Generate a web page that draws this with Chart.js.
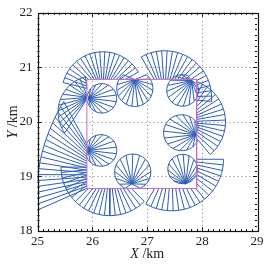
<!DOCTYPE html>
<html>
<head>
<meta charset="utf-8">
<script src="https://cdn.jsdelivr.net/npm/chart.js@4.4.1/dist/chart.umd.min.js"></script>
<style>
  html, body { margin: 0; padding: 0; background: #fff; }
</style>
</head>
<body>
<canvas id="sonarChart" width="276" height="265"></canvas>
<script>
// Axis ticks (km)
const xTicks = [25, 26, 27, 28, 29];
const yTicks = [18, 19, 20, 21, 22];

// Planned route (km)
const routeX = [25.9, 27.9, 27.9, 25.9, 25.9];
const routeY = [20.78, 20.78, 18.78, 18.78, 20.78];

// Sonar fans: apex at first and last ray (a moving apex gives a swath),
// arc centre, arc radius (km), arc span (deg), number of rays,
// and whether the fan is only drawn outside the route
const fanApexX    = [25.936, 26.773, 27.809, 27.882, 27.700, 26.718, 25.918, 26.191, 25.918, 25.918, 27.318, 27.645, 27.445, 26.318];
const fanApexY    = [20.432, 20.775, 20.757, 19.766, 18.865, 18.865, 19.477, 20.541, 20.450, 19.550, 20.450, 20.000, 19.315, 19.171];
const fanApexEndX = [25.936, 26.773, 27.809, 27.882, 27.700, 26.718, 25.918, 26.191, 25.918, 25.918, 27.318, 27.645, 27.445, 26.318];
const fanApexEndY = [20.432, 20.775, 20.757, 19.766, 18.865, 18.865, 19.477, 20.541, 20.450, 18.790, 20.450, 20.000, 19.315, 19.171];
const fanCenterX  = [26.173, 26.773, 27.645, 27.627, 27.645, 26.736, 26.155, 26.191, 26.045, 28.500, 27.318, 27.645, 27.445, 26.318];
const fanCenterY  = [20.432, 20.613, 20.577, 19.802, 19.135, 19.081, 19.477, 20.541, 20.180, 18.559, 20.450, 20.000, 19.315, 19.171];
const fanRadius   = [0.27, 0.33, 0.29, 0.33, 0.27, 0.33, 0.29, 0.745, 0.67, 3.527, 0.855, 0.78, 0.945, 0.89];
const fanFromDeg  = [-165, 130, 73, 20, -55, -65, -155, 30, 105, 149, -5, -50, -120, 180];
const fanToDeg    = [165, 410, 383, 330, 255, 245, 155, 166, 215, 183, 120, 70, 0, 315];
const fanRays     = [14, 16, 15, 15, 14, 15, 14, 20, 13, 20, 20, 17, 20, 22];
const fanOuter    = [false, false, false, false, false, false, false, true, true, true, true, true, true, true];

const BLUE = '#2d5db4';
const ROUTE = '#cc66cc';
const SERIF = '"Liberation Serif", "DejaVu Serif", serif';

const xMin = Math.min(...routeX), xMax = Math.max(...routeX);
const yMin = Math.min(...routeY), yMax = Math.max(...routeY);

function rayAt(i, k) {
    const f = k / (fanRays[i] - 1);
    const a = (fanFromDeg[i] + (fanToDeg[i] - fanFromDeg[i]) * f) * Math.PI / 180;
    return {
        start: {
            x: fanApexX[i] + (fanApexEndX[i] - fanApexX[i]) * f,
            y: fanApexY[i] + (fanApexEndY[i] - fanApexY[i]) * f
        },
        end: {
            x: fanCenterX[i] + fanRadius[i] * Math.cos(a),
            y: fanCenterY[i] + fanRadius[i] * Math.sin(a)
        }
    };
}

// move a ray start to where it leaves the route box
function clipOutside(a, b) {
    const inside = a.x > xMin && a.x < xMax && a.y > yMin && a.y < yMax;
    if (!inside) return a;
    const dx = b.x - a.x, dy = b.y - a.y;
    const tx = dx > 0 ? (xMax - a.x) / dx : dx < 0 ? (xMin - a.x) / dx : Infinity;
    const ty = dy > 0 ? (yMax - a.y) / dy : dy < 0 ? (yMin - a.y) / dy : Infinity;
    const t = Math.min(tx, ty);
    if (t >= 1) return null;
    return { x: a.x + t * dx, y: a.y + t * dy };
}

function buildFanDatasets() {
    const sets = [];
    for (let i = 0; i < fanRays.length; i++) {
        const rays = [];
        const arc = [];
        for (let k = 0; k < fanRays[i]; k++) {
            const r = rayAt(i, k);
            const start = fanOuter[i] ? clipOutside(r.start, r.end) : r.start;
            arc.push(r.end);
            if (!start) continue;
            rays.push(start, r.end, { x: NaN, y: NaN });
        }
        sets.push({ data: rays, borderColor: BLUE, borderWidth: 1, showLine: true, pointRadius: 0, spanGaps: false, tension: 0, order: 1 });
        sets.push({ data: arc, borderColor: BLUE, borderWidth: 1, showLine: true, pointRadius: 0, tension: 0.35, order: 1 });
    }
    return sets;
}

const routeData = routeX.map((x, i) => ({ x: x, y: routeY[i] }));

// dotted grid, box and small ticks, axis titles
const framePlugin = {
    id: 'frame',
    beforeDatasetsDraw(chart) {
        const { ctx, chartArea: a, scales: { x, y } } = chart;
        ctx.save();
        ctx.strokeStyle = '#777';
        ctx.lineWidth = 1;
        ctx.setLineDash([1, 3]);
        xTicks.slice(1, -1).forEach(v => {
            const px = Math.round(x.getPixelForValue(v)) + 0.5;
            ctx.beginPath(); ctx.moveTo(px, a.top); ctx.lineTo(px, a.bottom); ctx.stroke();
        });
        yTicks.slice(1, -1).forEach(v => {
            const py = Math.round(y.getPixelForValue(v)) + 0.5;
            ctx.beginPath(); ctx.moveTo(a.left, py); ctx.lineTo(a.right, py); ctx.stroke();
        });
        ctx.restore();
    },
    afterDatasetsDraw(chart) {
        const { ctx, chartArea: a, scales: { x, y } } = chart;
        ctx.save();
        ctx.strokeStyle = '#111';
        ctx.lineWidth = 1;
        // minor ticks every 0.1 km
        ctx.beginPath();
        for (let k = 1; k < 40; k++) {
            const px = Math.round(x.getPixelForValue(xTicks[0] + k / 10)) + 0.5;
            const py = Math.round(y.getPixelForValue(yTicks[0] + k / 10)) + 0.5;
            const len = k % 10 === 0 ? 4 : 2;
            ctx.moveTo(px, a.bottom); ctx.lineTo(px, a.bottom - len);
            ctx.moveTo(px, a.top); ctx.lineTo(px, a.top + len);
            ctx.moveTo(a.left, py); ctx.lineTo(a.left + len, py);
            ctx.moveTo(a.right, py); ctx.lineTo(a.right - len, py);
        }
        ctx.stroke();
        ctx.lineWidth = 1.2;
        ctx.strokeRect(Math.round(a.left) + 0.5, Math.round(a.top) + 0.5, Math.round(a.right - a.left), Math.round(a.bottom - a.top));
        ctx.restore();
    },
    afterDraw(chart) {
        const { ctx, chartArea: a } = chart;
        ctx.save();
        ctx.fillStyle = '#222';
        ctx.textBaseline = 'middle';
        ctx.textAlign = 'left';
        const title = (letter, cx, cy) => {
            ctx.font = 'italic 14px ' + SERIF;
            const w1 = ctx.measureText(letter).width;
            ctx.font = '14px ' + SERIF;
            const w2 = ctx.measureText(' /km').width;
            const x0 = cx - (w1 + w2) / 2;
            ctx.font = 'italic 14px ' + SERIF;
            ctx.fillText(letter, x0, cy);
            ctx.font = '14px ' + SERIF;
            ctx.fillText(' /km', x0 + w1, cy);
        };
        title('X', (a.left + a.right) / 2, 254);
        ctx.translate(13, (a.top + a.bottom) / 2);
        ctx.rotate(-Math.PI / 2);
        title('Y', 0, 0);
        ctx.restore();
    }
};

new Chart(document.getElementById('sonarChart'), {
    type: 'scatter',
    data: {
        datasets: [
            { data: routeData, borderColor: ROUTE, borderWidth: 1, showLine: true, pointRadius: 0, tension: 0, order: 0 },
            ...buildFanDatasets()
        ]
    },
    options: {
        responsive: false,
        animation: false,
        layout: { padding: { top: 9, right: 19, left: 0, bottom: 0 } },
        plugins: { legend: { display: false }, tooltip: { enabled: false } },
        scales: {
            x: {
                type: 'linear', min: 25, max: 29,
                grid: { display: false, drawTicks: false },
                border: { display: false },
                afterBuildTicks: s => { s.ticks = xTicks.map(v => ({ value: v })); },
                afterFit: s => { s.height = 34; },
                ticks: { padding: 3, color: '#222', font: { family: SERIF, size: 13 } }
            },
            y: {
                type: 'linear', min: 18, max: 22,
                grid: { display: false, drawTicks: false },
                border: { display: false },
                afterBuildTicks: s => { s.ticks = yTicks.map(v => ({ value: v })); },
                afterFit: s => { s.width = 37.5; },
                ticks: { padding: 5, color: '#222', font: { family: SERIF, size: 13 } }
            }
        }
    },
    plugins: [framePlugin]
});
</script>
</body>
</html>
